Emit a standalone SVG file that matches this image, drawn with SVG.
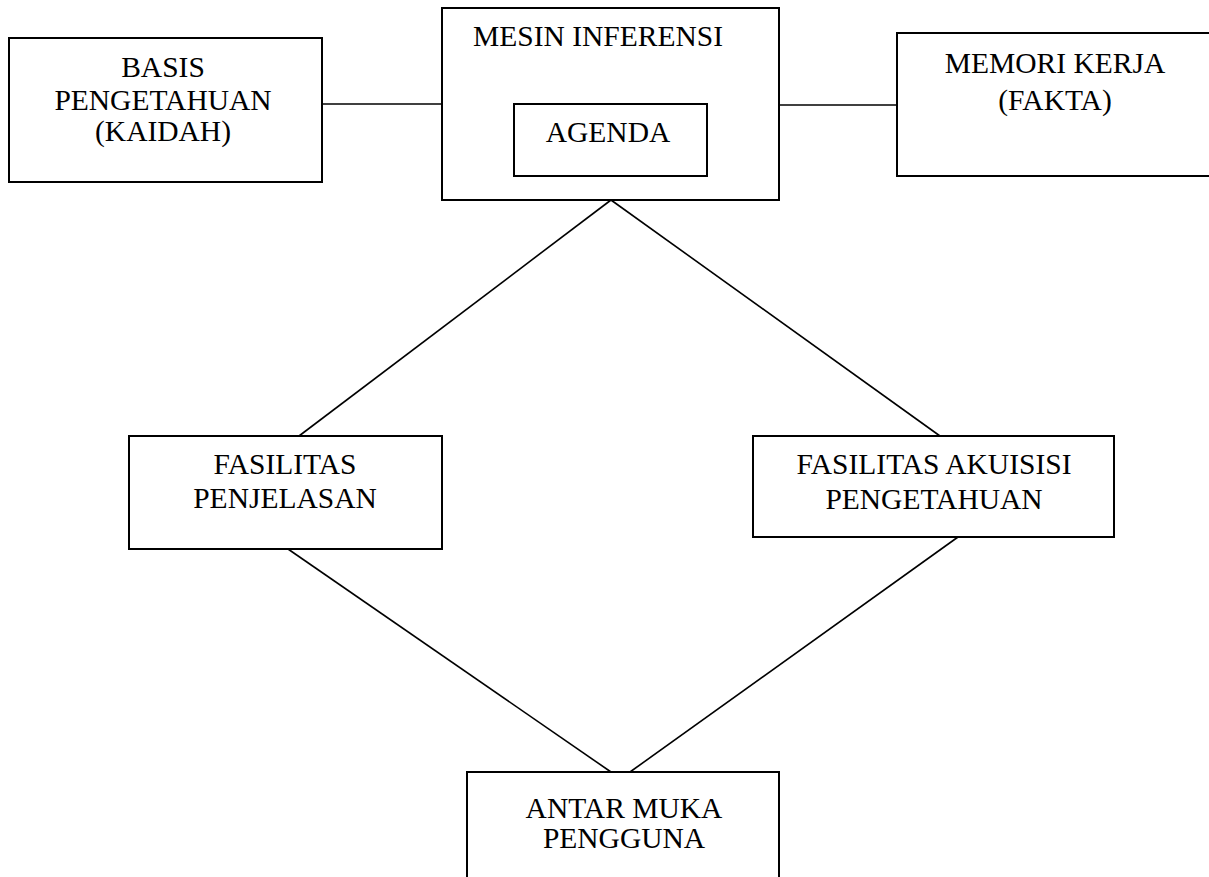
<svg xmlns="http://www.w3.org/2000/svg" width="1209" height="877" viewBox="0 0 1209 877">
<style>
.box{fill:#fff;stroke:#000;stroke-width:2}
.conn{stroke:#000;stroke-width:1.6;fill:none}
text{font-family:"Liberation Serif","Times New Roman",serif;font-size:29.5px;fill:#000;text-anchor:middle}
</style>
<rect width="1209" height="877" fill="#fff"/>
<g id="connectors">
<line class="conn" x1="322" y1="104" x2="443" y2="104"/>
<line class="conn" x1="779" y1="105" x2="898" y2="105"/>
<line class="conn" x1="611" y1="200" x2="299" y2="436"/>
<line class="conn" x1="611" y1="200" x2="940" y2="436"/>
<line class="conn" x1="288" y1="549" x2="611" y2="772"/>
<line class="conn" x1="958" y1="537" x2="630" y2="772"/>
</g>
<g id="basis">
<rect class="box" x="9" y="38" width="313" height="144"/>
<text x="163" y="77">BASIS</text>
<text x="163" y="110">PENGETAHUAN</text>
<text x="163" y="141">(KAIDAH)</text>
</g>
<g id="mesin">
<rect class="box" x="442" y="8" width="337" height="192"/>
<text x="598" y="46">MESIN INFERENSI</text>
</g>
<g id="agenda">
<rect class="box" x="514" y="104" width="193" height="72"/>
<text x="608" y="142">AGENDA</text>
</g>
<g id="memori">
<rect class="box" x="897" y="33" width="330" height="143"/>
<text x="1055" y="73">MEMORI KERJA</text>
<text x="1055" y="110">(FAKTA)</text>
</g>
<g id="penjelasan">
<rect class="box" x="129" y="436" width="313" height="113"/>
<text x="285" y="474">FASILITAS</text>
<text x="285" y="508">PENJELASAN</text>
</g>
<g id="akuisisi">
<rect class="box" x="753" y="436" width="361" height="101"/>
<text x="934" y="474">FASILITAS AKUISISI</text>
<text x="934" y="509">PENGETAHUAN</text>
</g>
<g id="antarmuka">
<rect class="box" x="467" y="772" width="312" height="120"/>
<text x="624" y="818">ANTAR MUKA</text>
<text x="624" y="848">PENGGUNA</text>
</g>
</svg>
